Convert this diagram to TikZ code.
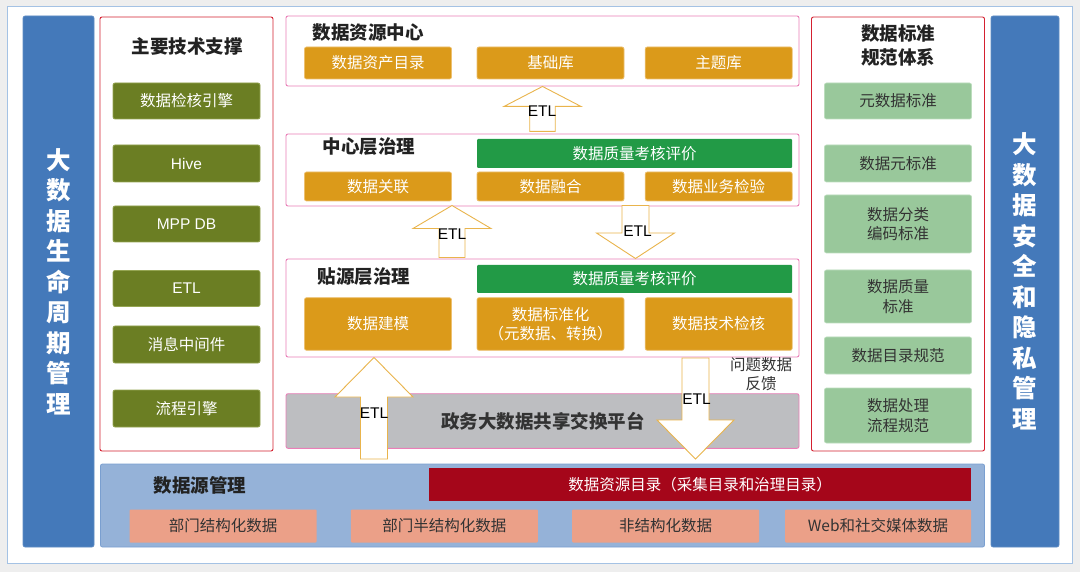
\documentclass[tikz,border=0pt]{standalone}
\usepackage{fontspec}
\setmainfont{Noto Sans CJK SC}
\newfontfamily\latinfont{Liberation Sans}
\definecolor{bgC}{HTML}{EEEEEE}
\definecolor{panelC}{HTML}{A4C2E4}
\definecolor{barC}{HTML}{4479BA}
\definecolor{redC}{HTML}{D42030}
\definecolor{oliveC}{HTML}{6B7E23}
\definecolor{oliveBd}{HTML}{95A552}
\definecolor{orangeC}{HTML}{DB9A1A}
\definecolor{orangeBd}{HTML}{EDC070}
\definecolor{greenC}{HTML}{229A46}
\definecolor{lgreenC}{HTML}{99C89B}
\definecolor{lgreenBd}{HTML}{BCDDBD}
\definecolor{pinkC}{HTML}{EA7FB8}
\definecolor{grayC}{HTML}{BDBEC1}
\definecolor{srcC}{HTML}{95B2D8}
\definecolor{srcBd}{HTML}{7A9FD0}
\definecolor{dredC}{HTML}{A5061A}
\definecolor{salmonC}{HTML}{EBA088}
\definecolor{arrowC}{HTML}{E9B44C}
\definecolor{txtC}{HTML}{222222}
\definecolor{txt2C}{HTML}{333333}
\newcommand\blkarrow[5]{\draw[blk] (#1) -- ++(#2,#4) -- ++({#3-#2},0) -- ++(0,#5) -- ++({-2*#3},0) -- ++(0,{-(#5)}) -- ++({#3-#2},0) -- cycle;}
\tikzset{
  base/.style={rounded corners=2pt, inner sep=0pt, align=center, font=\fontsize{15.5}{19.5}\selectfont},
  bar/.style={base, fill=barC, draw=barC!85!white, line width=0.6pt, text=white, minimum height=531pt, font=\fontsize{24.5}{30.5}\selectfont\bfseries},
  redpanel/.style={base, draw=redC, line width=0.9pt, fill=white, minimum width=173pt, minimum height=434pt},
  pinkpanel/.style={base, draw=pinkC, line width=0.9pt, fill=white, minimum width=513pt},
  title/.style={inner sep=0pt, align=center, text=txtC, font=\fontsize{18.5}{24}\selectfont\bfseries},
  olivebox/.style={base, fill=oliveC, draw=oliveBd, line width=0.7pt, text=white, minimum width=147pt},
  lgbox/.style={base, fill=lgreenC, draw=lgreenBd, line width=0.7pt, text=txt2C, minimum width=147pt},
  orbox/.style={base, fill=orangeC, draw=orangeBd, line width=0.7pt, text=white, minimum width=147pt},
  grbar/.style={base, rounded corners=1pt, fill=greenC, text=white, minimum width=315pt},
  sabox/.style={base, rounded corners=1pt, fill=salmonC, text=txt2C, minimum width=187pt, minimum height=33pt},
  blk/.style={draw=arrowC, line width=0.9pt, fill=white},
  etl/.style={inner sep=0pt, text=black, font=\latinfont\fontsize{15.5}{18}\selectfont}
}
\begin{document}
\begin{tikzpicture}[x=1pt,y=-1pt]
\fill[bgC] (0,0) rectangle (1080,572);
\draw[panelC, line width=1pt, fill=white] (7.5,6.5) rectangle (1072,563);

% side bars
\node[bar, minimum width=71pt] (lbar) at (58.5,281.5) {大\\数\\据\\生\\命\\周\\期\\管\\理};
\node[bar, minimum width=68pt] (rbar) at (1025,281.5) {大\\数\\据\\安\\全\\和\\隐\\私\\管\\理};

% left panel
\node[redpanel] (tech) at (186.5,234) {};
\node[title] (techT) at (187,46) {主要技术支撑};
\node[olivebox, minimum height=36pt] (t1) at (186.5,101) {数据检核引擎};
\node[olivebox, minimum height=37pt, font=\latinfont\fontsize{15.5}{19.5}\selectfont] (t2) at (186.5,163.5) {Hive};
\node[olivebox, minimum height=36pt, font=\latinfont\fontsize{15.5}{19.5}\selectfont] (t3) at (186.5,224) {MPP DB};
\node[olivebox, minimum height=36pt, font=\latinfont\fontsize{15.5}{19.5}\selectfont] (t4) at (186.5,288.5) {ETL};
\node[olivebox, minimum height=37pt] (t5) at (186.5,344.5) {消息中间件};
\node[olivebox, minimum height=37pt] (t6) at (186.5,408.5) {流程引擎};

% right panel
\node[redpanel] (std) at (898,234) {};
\node[title] (stdT) at (898,45) {数据标准\\规范体系};
\node[lgbox, minimum height=36pt] (s1) at (898,101) {元数据标准};
\node[lgbox, minimum height=37pt] (s2) at (898,163.5) {数据元标准};
\node[lgbox, minimum height=58pt] (s3) at (898,224) {数据分类\\编码标准};
\node[lgbox, minimum height=53pt] (s4) at (898,296.5) {数据质量\\标准};
\node[lgbox, minimum height=37pt] (s5) at (898,355.5) {数据目录规范};
\node[lgbox, minimum height=55pt] (s6) at (898,415.5) {数据处理\\流程规范};

% data resource centre
\node[pinkpanel, minimum height=70pt] (zy) at (542.5,51) {};
\node[title] (zyT) at (368,33) {数据资源中心};
\node[orbox, minimum height=32pt] (zy1) at (378,63) {数据资产目录};
\node[orbox, minimum height=32pt] (zy2) at (550.5,63) {基础库};
\node[orbox, minimum height=32pt] (zy3) at (718.7,63) {主题库};

% centre layer governance
\node[pinkpanel, minimum height=72pt] (zx) at (542.5,170) {};
\node[title] (zxT) at (369,147) {中心层治理};
\node[grbar, minimum height=29pt] (zxq) at (634.7,153.5) {数据质量考核评价};
\node[orbox, minimum height=29pt] (zx1) at (378,186.5) {数据关联};
\node[orbox, minimum height=29pt] (zx2) at (550.5,186.5) {数据融合};
\node[orbox, minimum height=29pt] (zx3) at (718.7,186.5) {数据业务检验};

% source layer governance
\node[pinkpanel, minimum height=98pt] (ty) at (542.5,308) {};
\node[title] (tyT) at (364,277) {贴源层治理};
\node[grbar, minimum height=28pt] (tyq) at (634.7,279) {数据质量考核评价};
\node[orbox, minimum height=52.6pt] (ty1) at (378,324) {数据建模};
\node[orbox, minimum height=52.6pt] (ty2) at (550.5,324) {数据标准化\\（元数据、转换）};
\node[orbox, minimum height=52.6pt] (ty3) at (718.7,324) {数据技术检核};

% exchange platform
\node[pinkpanel, fill=grayC, minimum height=54.6pt] (gx) at (542.5,421) {};
\node[title, text=txt2C] (gxT) at (543,421) {政务大数据共享交换平台};

% data source management
\node[base, fill=srcC, draw=srcBd, line width=0.8pt, minimum width=884pt, minimum height=83pt] (src) at (542.5,505.5) {};
\node[title] (srcT) at (200,485) {数据源管理};
\node[base, rounded corners=0pt, fill=dredC, text=white, minimum width=542pt, minimum height=33pt] (cat) at (700,484.5) {数据资源目录（采集目录和治理目录）};
\node[sabox] (d1) at (223,526) {部门结构化数据};
\node[sabox] (d2) at (444.3,526) {部门半结构化数据};
\node[sabox] (d3) at (665.5,526) {非结构化数据};
\node[sabox, minimum width=186pt] (d4) at (878,526) {Web和社交媒体数据};

% block arrows
\coordinate (a1) at (zy.south);
\coordinate (a2) at (452,205.5);
\coordinate (a3) at (635.5,258.5);
\coordinate (a4) at (374,357.5);
\coordinate (a5) at (695.5,459);
\blkarrow{a1}{38.5}{12.75}{20}{25}
\blkarrow{a2}{39}{13}{23}{29}
\blkarrow{a3}{39}{13.5}{-25.5}{-27.5}
\blkarrow{a4}{39}{13.5}{39.5}{62}
\blkarrow{a5}{38.5}{13.5}{-39}{-62}
\node[etl] (e1) at (542,111) {ETL};
\node[etl] (e2) at (452,234) {ETL};
\node[etl] (e3) at (637.5,231) {ETL};
\node[etl] (e4) at (374,413.5) {ETL};
\node[etl] (e5) at (696.5,399) {ETL};
\node[inner sep=0pt, align=center, text=txt2C, font=\fontsize{15.5}{19}\selectfont] (fb) at (761,374.5) {问题数据\\反馈};
\end{tikzpicture}
\end{document}
